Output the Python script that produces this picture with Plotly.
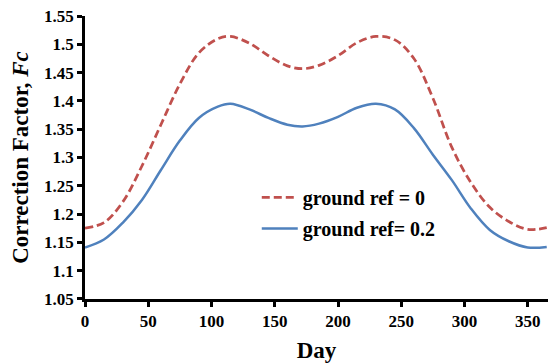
import plotly.graph_objects as go

days = [0, 15, 30, 45, 60, 75, 90, 105, 115, 130, 145, 160, 172, 185, 200, 215, 230,
        245, 260, 275, 290, 305, 320, 335, 350, 365]
fc_ground0 = [1.175, 1.185, 1.222, 1.285, 1.358, 1.43, 1.485, 1.51, 1.514, 1.502, 1.48,
              1.462, 1.457, 1.463, 1.48, 1.503, 1.514, 1.508, 1.475, 1.405, 1.318, 1.256,
              1.212, 1.187, 1.173, 1.176]
fc_ground02 = [1.141, 1.155, 1.185, 1.225, 1.278, 1.33, 1.37, 1.39, 1.395, 1.385, 1.37,
               1.358, 1.355, 1.36, 1.372, 1.388, 1.395, 1.385, 1.352, 1.305, 1.26, 1.21,
               1.172, 1.152, 1.141, 1.142]

ytick_vals = [1.05, 1.1, 1.15, 1.2, 1.25, 1.3, 1.35, 1.4, 1.45, 1.5, 1.55]
ytick_text = ["1.05", "1.1", "1.15", "1.2", "1.25", "1.3", "1.35", "1.4", "1.45", "1.5", "1.55"]
xtick_vals = [0, 50, 100, 150, 200, 250, 300, 350]
xtick_text = ["0", "50", "100", "150", "200", "250", "300", "350"]

font_family = "Liberation Serif"

fig = go.Figure()
fig.add_trace(go.Scatter(
    x=days, y=fc_ground0, mode="lines", name="<b>ground ref = 0</b>",
    line=dict(color="#C0504D", width=2.75, dash="8px,4px", shape="spline", smoothing=1.0),
    legendgroup="a",
))
fig.add_trace(go.Scatter(
    x=days, y=fc_ground02, mode="lines", name="<b>ground ref= 0.2</b>",
    line=dict(color="#4F81BD", width=2.5, shape="spline", smoothing=1.0),
    legendgroup="b",
))

fig.update_layout(
    width=548, height=363,
    margin=dict(l=85, r=0, t=16, b=64, autoexpand=False),
    paper_bgcolor="white", plot_bgcolor="white",
    font=dict(family=font_family, color="black"),
    showlegend=True,
    legend=dict(
        x=0.371, y=0.4276, xanchor="left", yanchor="top",
        bgcolor="rgba(0,0,0,0)",
        font=dict(family=font_family, size=20, color="black"),
        traceorder="grouped", tracegroupgap=2, itemwidth=36,
    ),
    xaxis=dict(
        range=[0, 366], tickvals=xtick_vals, ticktext=["<b>%s</b>" % t for t in xtick_text],
        automargin=False, ticklabeloverflow="allow",
        showgrid=False, zeroline=False,
        showline=True, linecolor="black", linewidth=2.5,
        ticks="outside", ticklen=5, tickwidth=2.5, tickcolor="black",
        tickfont=dict(family=font_family, size=17, color="black"),
        title=dict(text="<b>Day</b>", font=dict(family=font_family, size=23, color="black"), standoff=13),
    ),
    yaxis=dict(
        range=[1.0499, 1.5502], tickvals=ytick_vals, ticktext=["<b>%s</b>" % t for t in ytick_text],
        automargin=False, ticklabeloverflow="allow",
        showgrid=False, zeroline=False,
        showline=True, linecolor="black", linewidth=2.5,
        ticks="outside", ticklen=5, tickwidth=2.5, tickcolor="black",
        tickfont=dict(family=font_family, size=17, color="black"),
        title=dict(text="<b>Correction Factor, <i>Fc</i></b>",
                   font=dict(family=font_family, size=23, color="black"), standoff=10),
    ),
)

fig.write_html("out.html", config={"displayModeBar": False},
               post_script="document.body.style.margin='0';")
